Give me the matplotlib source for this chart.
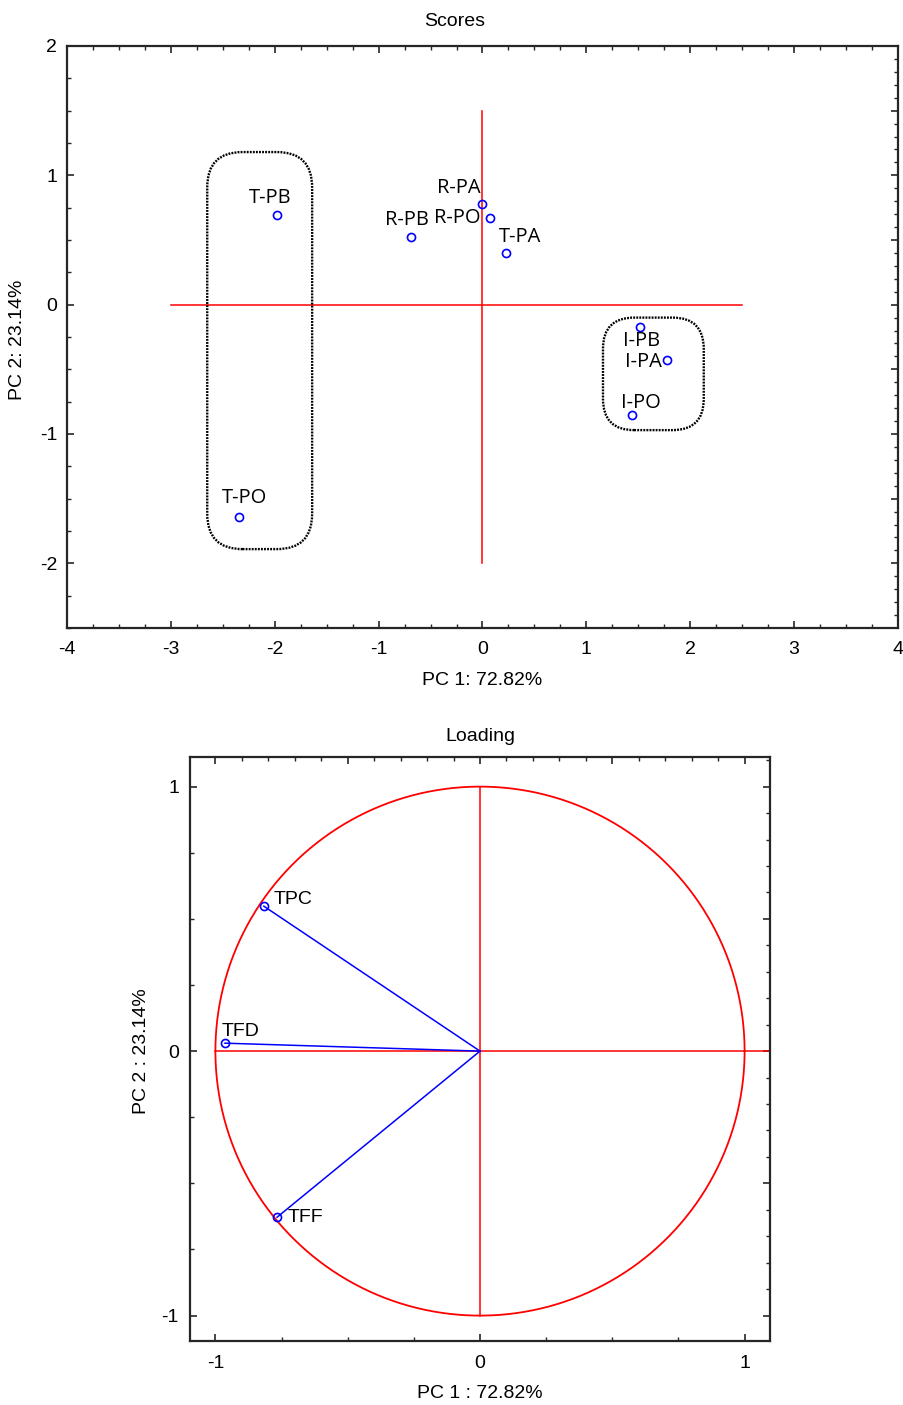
import numpy as np
import matplotlib
matplotlib.use("Agg")
import matplotlib.pyplot as plt
from matplotlib.patches import FancyBboxPatch
from matplotlib.ticker import MultipleLocator

plt.rcParams["axes.unicode_minus"] = False

# ---------------- data ----------------
score_labels = ["T-PB", "R-PB", "R-PA", "R-PO", "T-PA", "I-PB", "I-PA", "I-PO", "T-PO"]
score_pc1 = [-1.98, -0.69, 0.00, 0.07, 0.23, 1.52, 1.78, 1.44, -2.34]
score_pc2 = [0.69, 0.52, 0.78, 0.67, 0.40, -0.17, -0.43, -0.85, -1.64]

loading_labels = ["TPC", "TFD", "TFF"]
loading_pc1 = [-0.817, -0.964, -0.767]
loading_pc2 = [0.548, 0.030, -0.628]

pc1_label_scores = "PC 1: 72.82%"
pc2_label_scores = "PC 2: 23.14%"
pc1_label_load = "PC 1 : 72.82%"
pc2_label_load = "PC 2 : 23.14%"

# label offsets (pixels: dx right, dy up)
score_offsets = [(-7, 17), (-4, 17), (-24, 16), (-33, 0), (14, 16), (1, -14), (-24, -2), (9, 12), (5, 19)]
loading_offsets = [(10, 7), (-3, 12), (11, 0)]

# ---------------- style ----------------
W, H = 904, 1405
DPI = 100
TICK_FONT = "Liberation Sans"
FS = 14
PT = 72.0 / DPI
spine_col = "#262626"
red = "#ff0000"
blue = "#0000ff"

fig = plt.figure(figsize=(W / DPI, H / DPI), dpi=DPI)


def style_axes(ax, xmaj, xmin, ymaj, ymin, top_maj, top_min, right_maj, right_min, xpad, ypad):
    for s in ax.spines.values():
        s.set_color(spine_col)
        s.set_linewidth(1.6)
    ax.xaxis.set_major_locator(MultipleLocator(xmaj))
    ax.xaxis.set_minor_locator(MultipleLocator(xmin))
    ax.yaxis.set_major_locator(MultipleLocator(ymaj))
    ax.yaxis.set_minor_locator(MultipleLocator(ymin))
    ax.tick_params(which="both", direction="in", color=spine_col)
    ax.tick_params(which="major", length=5, width=1.2, labelsize=FS)
    ax.tick_params(which="minor", length=3, width=1.0)
    ax.tick_params(axis="x", which="major", pad=xpad)
    ax.tick_params(axis="y", which="major", pad=ypad)
    for lab in ax.get_xticklabels() + ax.get_yticklabels():
        lab.set_fontfamily(TICK_FONT)
    sx = ax.secondary_xaxis("top")
    sx.xaxis.set_major_locator(MultipleLocator(top_maj))
    sx.xaxis.set_minor_locator(MultipleLocator(top_min))
    sx.tick_params(which="both", direction="in", color=spine_col, labeltop=False)
    sx.tick_params(which="major", length=5, width=1.2)
    sx.tick_params(which="minor", length=3, width=1.0)
    sx.spines["top"].set_visible(False)
    sy = ax.secondary_yaxis("right")
    sy.yaxis.set_major_locator(MultipleLocator(right_maj))
    sy.yaxis.set_minor_locator(MultipleLocator(right_min))
    sy.tick_params(which="both", direction="in", color=spine_col, labelright=False)
    sy.tick_params(which="major", length=5, width=1.2)
    sy.tick_params(which="minor", length=3, width=1.0)
    sy.spines["right"].set_visible(False)


def ftext(x, y, s, rot=0):
    fig.text(x / W, 1 - y / H, s, ha="center", va="center", rotation=rot,
             fontsize=FS, family=TICK_FONT)


# ---------------- Scores ----------------
ax1 = fig.add_axes([67 / W, 1 - 628 / H, 831 / W, 582 / H])
ax1.set_xlim(-4, 4)
ax1.set_ylim(-2.5, 2)

ax1.plot([-3, 2.5], [0, 0], color=red, lw=1.1, zorder=1)
ax1.plot([0, 0], [-2, 1.5], color=red, lw=1.1, zorder=1)

ax1.plot(score_pc1, score_pc2, linestyle="none", marker="o", ms=5.8,
         mfc="none", mec=blue, mew=1.2, zorder=3)
for lab, x, y, (dx, dy) in zip(score_labels, score_pc1, score_pc2, score_offsets):
    ax1.annotate(lab, (x, y), xytext=(dx * PT, dy * PT), textcoords="offset points",
                 ha="center", va="center", fontsize=14.5, family="Open Sans", color="black")

# grouping boxes (rounded, dotted)
aspect1 = (831 / 8) / (582 / 4.5)
box_a = FancyBboxPatch((-2.65, -1.89), 1.01, 3.07,
                       boxstyle="round,pad=0,rounding_size=0.34", mutation_aspect=aspect1,
                       fill=False, ec="black", lw=1.7, ls=(0, (0.8, 0.5)), zorder=2)
box_b = FancyBboxPatch((1.16, -0.97), 0.97, 0.87,
                       boxstyle="round,pad=0,rounding_size=0.30", mutation_aspect=aspect1,
                       fill=False, ec="black", lw=1.7, ls=(0, (0.8, 0.5)), zorder=2)
ax1.add_patch(box_a)
ax1.add_patch(box_b)

style_axes(ax1, 1, 0.25, 1, 0.25, 1, 0.25, 0.5, 0.1, xpad=9, ypad=7)
ftext(482, 681, pc1_label_scores)
ftext(18, 340, pc2_label_scores, rot=90)
ftext(455, 22, "Scores")

# ---------------- Loading ----------------
ax2 = fig.add_axes([190 / W, 1 - 1341 / H, 580 / W, 584 / H])
ax2.set_xlim(-1.096, 1.096)
ax2.set_ylim(-1.096, 1.112)

theta = np.linspace(0, 2 * np.pi, 400)
ax2.plot(np.cos(theta), np.sin(theta), color=red, lw=1.3, zorder=1)
ax2.plot([-1, 1.096], [0, 0], color=red, lw=1.1, zorder=1)
ax2.plot([0, 0], [-1, 1], color=red, lw=1.1, zorder=1)

for x, y in zip(loading_pc1, loading_pc2):
    ax2.plot([0, x], [0, y], color=blue, lw=1.1, zorder=2)
ax2.plot(loading_pc1, loading_pc2, linestyle="none", marker="o", ms=5.8,
         mfc="none", mec=blue, mew=1.2, zorder=3)
for lab, x, y, (dx, dy) in zip(loading_labels, loading_pc1, loading_pc2, loading_offsets):
    ax2.annotate(lab, (x, y), xytext=(dx * PT, dy * PT), textcoords="offset points",
                 ha="left", va="center", fontsize=FS, family=TICK_FONT, color="black")

style_axes(ax2, 1, 0.25, 1, 0.25, 0.5, 0.1, 0.5, 0.1, xpad=10, ypad=8)
ftext(480, 1393, pc1_label_load)
ftext(142, 1051, pc2_label_load, rot=90)
ftext(480, 737, "Loading")

fig.savefig("out.png", dpi=DPI)
